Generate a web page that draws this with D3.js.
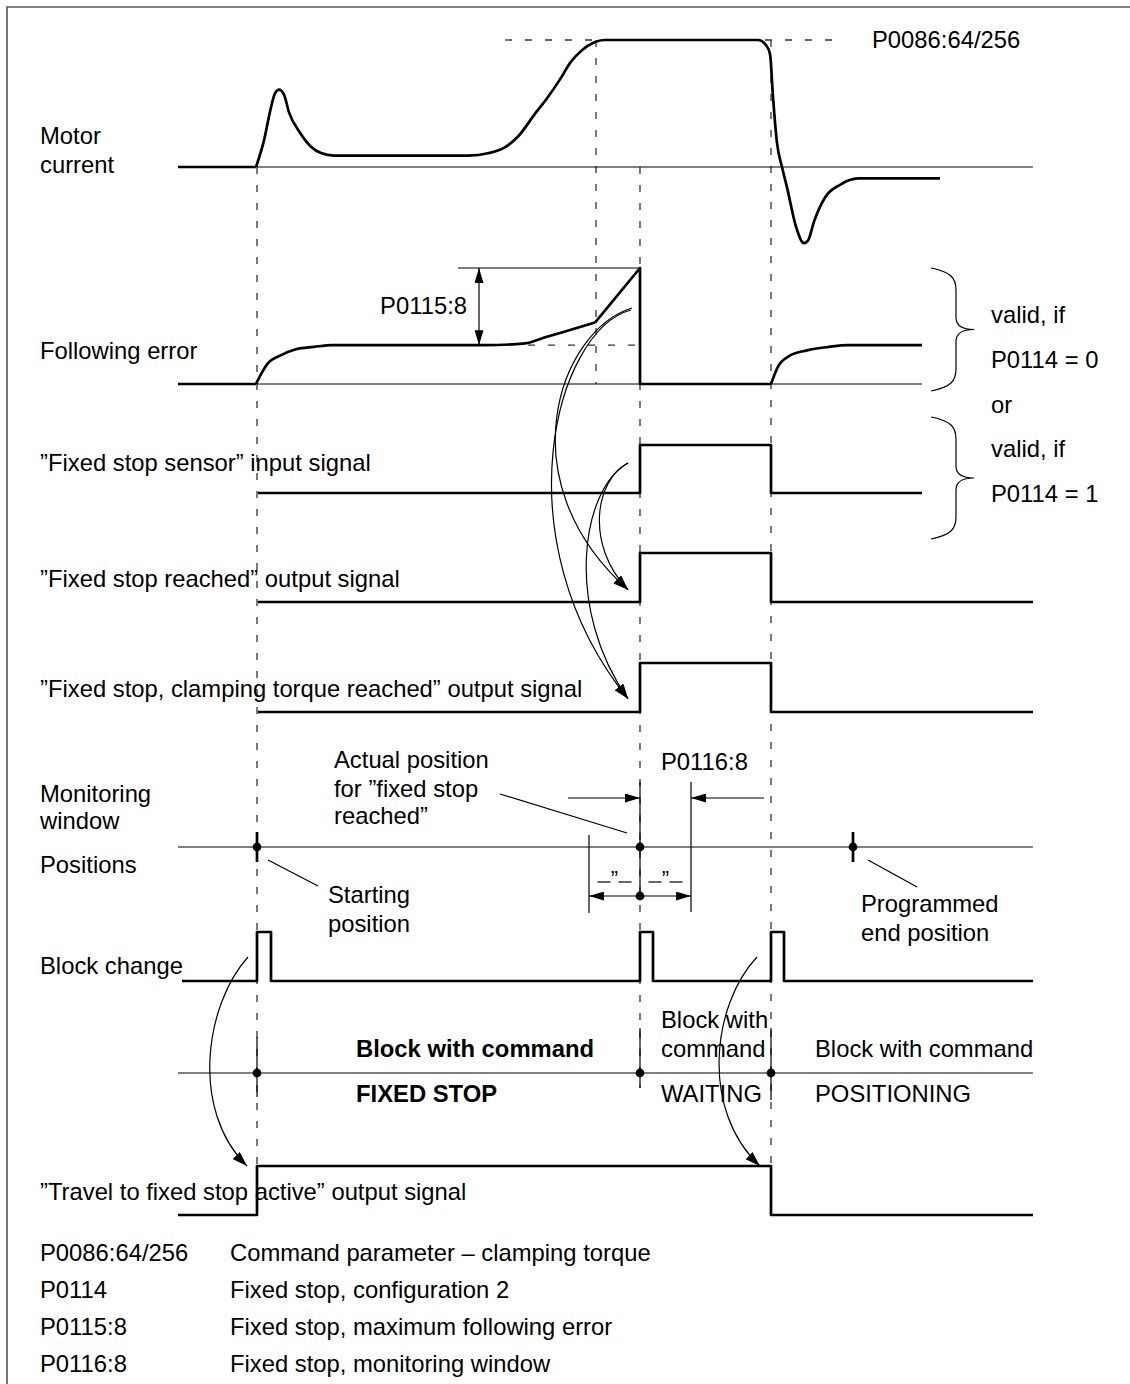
<!DOCTYPE html>
<html><head><meta charset="utf-8"><title>Travel to fixed stop</title>
<style>
  body { margin: 0; background: #fff; }
  svg { display: block; font-family: 'Liberation Sans', Arial, sans-serif; }
  .sig { fill: none; stroke: #000; stroke-width: 2.7; stroke-linejoin: round; }
  .thin { fill: none; stroke: #000; stroke-width: 1.2; }
  .dash { fill: none; stroke: #333; stroke-width: 1.3; stroke-dasharray: 7 11; }
  .hdash { fill: none; stroke: #333; stroke-width: 1.3; stroke-dasharray: 7 13; }
  .frame { fill: none; stroke: #555; stroke-width: 1.6; }
  text { font-size: 23.8px; fill: #000; }
  .bold { font-weight: bold; }
</style>
</head>
<body>
<svg id="chart" width="1130" height="1384"></svg>
<script src="https://cdnjs.cloudflare.com/ajax/libs/d3/7.8.5/d3.min.js"></script>
<script>
// time axis (ms), events
const tStart = 79, tLimit = 418, tStop = 462, tEnd = 593, tMax = 855;

// motor current, % of clamping torque P0086:64/256
const motorLead = [[0, 0], [78, 0]];
const motorCurrent = [[78, 0], [86, 21], [93, 47], [97, 58], [101, 61], [106, 57], [111, 43], [122, 27],
  [133, 16], [143, 11], [156, 9], [290, 9], [311, 11], [326, 15], [340, 24], [358, 43], [368, 53],
  [382, 69], [393, 83], [404, 92], [416, 98], [426, 100], [580, 100], [588, 96], [592, 89], [595, 55],
  [599, 19], [604, 0], [609, -16], [618, -47], [626, -60], [630, -58], [636, -43], [647, -24],
  [662, -14], [680, -9], [762, -9]];

// following error, % of P0115:8
const feLead = [[0, 0], [78, 0]];
const feRise = [[78, 0], [84, 10], [90, 18], [101, 24], [118, 30], [136, 32], [154, 33.5], [308, 33.5],
  [347, 35], [368, 40.5], [382, 44], [417, 53]];
const feRamp = [[417, 53], [462, 100], [462, 0], [593, 0]];
const feRecover = [[593, 0], [600, 15], [611, 24], [629, 29], [651, 32], [669, 33.5], [744, 33.5]];
const fePlateau = 33.5;

// digital signals [t, level]
const sensorSig = [[80, 0], [462, 1], [593, 0], [744, 0]];
const reachedSig = [[80, 0], [462, 1], [593, 0], [855, 0]];
const clampSig = [[80, 0], [462, 1], [593, 0], [855, 0]];
const blockChange = [[4, 0], [79, 1], [93, 0], [462, 1], [475, 0], [593, 1], [606, 0], [855, 0]];
const travelSig = [[0, 0], [79, 1], [593, 0], [855, 0]];

// positions
const startPos = 79, actualPos = 462, endPos = 675, windowHalf = 51;
const blockBounds = [79, 462, 593];

// legend
const legendCodes = ['P0086:64/256', 'P0114', 'P0115:8', 'P0116:8'];
const legendTexts = ['Command parameter \u2013 clamping torque', 'Fixed stop, configuration 2',
  'Fixed stop, maximum following error', 'Fixed stop, monitoring window'];

const svg = d3.select('#chart');
const x = d3.scaleLinear().domain([0, tMax]).range([178, 1033]);
const lane = {
  motor: d3.scaleLinear().domain([0, 100]).range([167, 40]),
  fe: d3.scaleLinear().domain([0, 100]).range([384, 268]),
  sensor: d3.scaleLinear().domain([0, 1]).range([493, 445]),
  reached: d3.scaleLinear().domain([0, 1]).range([602, 553]),
  clamp: d3.scaleLinear().domain([0, 1]).range([712, 663]),
  block: d3.scaleLinear().domain([0, 1]).range([981, 932]),
  travel: d3.scaleLinear().domain([0, 1]).range([1215, 1166])
};
const yPos = 847, yCmd = 1073;

const defs = svg.append('defs');
function marker(id, len, wid) {
  defs.append('marker').attr('id', id)
    .attr('viewBox', `0 0 ${len} ${wid}`).attr('refX', len).attr('refY', wid / 2)
    .attr('markerWidth', len).attr('markerHeight', wid)
    .attr('markerUnits', 'userSpaceOnUse').attr('orient', 'auto-start-reverse')
    .append('path').attr('d', `M0,0 L${len},${wid / 2} L0,${wid} Z`).attr('fill', '#000');
}
marker('ah', 15, 9);
marker('ahc', 15, 10);

// frame
svg.append('path').attr('class', 'frame').attr('d', 'M7,1384 L7,7 L1130,7');

function trace(data, y, curve, cls) {
  return svg.append('path').datum(data).attr('class', cls || 'sig')
    .attr('d', d3.line().x(d => x(d[0])).y(d => y(d[1])).curve(curve || d3.curveLinear));
}
function hline(t0, t1, y, cls) {
  return svg.append('line').attr('class', cls || 'thin')
    .attr('x1', x(t0)).attr('x2', x(t1)).attr('y1', y).attr('y2', y);
}
function vline(t, y0, y1, cls) {
  return svg.append('line').attr('class', cls || 'thin')
    .attr('x1', x(t)).attr('x2', x(t)).attr('y1', y0).attr('y2', y1);
}
function label(px, py, str, cls, anchor) {
  return svg.append('text').attr('x', px).attr('y', py).attr('class', cls || null)
    .attr('text-anchor', anchor || 'start').text(str);
}

// dashed event lines
vline(tStart, lane.motor(0), lane.travel(1), 'dash');
vline(tLimit, lane.motor(100), lane.fe(0), 'dash');
vline(tStop, lane.motor(0), 1088, 'dash');
vline(tEnd, lane.motor(100), lane.travel(1), 'dash');

// motor current
hline(tStart, tMax, lane.motor(0));
hline(327, 667, lane.motor(100), 'hdash');
trace(motorLead, lane.motor);
trace(motorCurrent, lane.motor, d3.curveMonotoneX);
label(40, 144, 'Motor');
label(40, 173, 'current');
label(872, 48, 'P0086:64/256');

// following error
hline(tStart, 744, lane.fe(0));
hline(280, tStop, lane.fe(100));
hline(350, tStop, lane.fe(fePlateau), 'hdash');
trace(feLead, lane.fe);
trace(feRise, lane.fe, d3.curveMonotoneX);
trace(feRamp, lane.fe);
trace(feRecover, lane.fe, d3.curveMonotoneX);
svg.append('line').attr('class', 'thin')
  .attr('x1', x(301)).attr('x2', x(301)).attr('y1', lane.fe(fePlateau)).attr('y2', lane.fe(100))
  .attr('marker-start', 'url(#ah)').attr('marker-end', 'url(#ah)');
label(467, 314, 'P0115:8', null, 'end');
label(40, 359, 'Following error');

// braces
function brace(bx, yTop, yBot) {
  const m = (yTop + yBot) / 2;
  return `M${bx},${yTop} C${bx + 20},${yTop + 4} ${bx + 25},${yTop + 10} ${bx + 25},${yTop + 22}
    L${bx + 25},${m - 12} C${bx + 25},${m - 3} ${bx + 32},${m} ${bx + 43},${m}
    C${bx + 32},${m} ${bx + 25},${m + 3} ${bx + 25},${m + 12} L${bx + 25},${yBot - 22}
    C${bx + 25},${yBot - 10} ${bx + 20},${yBot - 4} ${bx},${yBot}`;
}
svg.append('path').attr('class', 'thin').attr('d', brace(931, lane.fe(100), lane.fe(0) + 7));
svg.append('path').attr('class', 'thin').attr('d', brace(931, 417, 539));
label(991, 323, 'valid, if');
label(991, 368, 'P0114 = 0');
label(991, 413, 'or');
label(991, 457, 'valid, if');
label(991, 502, 'P0114 = 1');

// digital signals
trace(sensorSig, lane.sensor, d3.curveStepAfter);
trace(reachedSig, lane.reached, d3.curveStepAfter);
trace(clampSig, lane.clamp, d3.curveStepAfter);
label(40, 471, '\u201DFixed stop sensor\u201D input signal');
label(40, 587, '\u201DFixed stop reached\u201D output signal');
label(40, 697, '\u201DFixed stop, clamping torque reached\u201D output signal');

// curved arrows (from following error and sensor to outputs, block change to travel)
const x0 = x(tStop);
const curved = [
  [[x0 - 8, 308], [x0 - 80, 330], [x0 - 135, 480], [x0 - 12, lane.reached(0.25)]],
  [[x0 - 9, 310], [x0 - 85, 330], [x0 - 140, 540], [x0 - 12, lane.clamp(0.27)]],
  [[x0 - 12, 463], [x0 - 45, 480], [x0 - 55, 545], [x0 - 12, lane.reached(0.25)]],
  [[x0 - 12, 463], [x0 - 60, 490], [x0 - 75, 610], [x0 - 12, lane.clamp(0.27)]],
  [[x(tStart) - 9, 957], [x(tStart) - 52, 1005], [x(tStart) - 67, 1110], [x(tStart) - 10, lane.travel(1)]],
  [[x(tEnd) - 14, 957], [x(tEnd) - 59, 1005], [x(tEnd) - 71, 1110], [x(tEnd) - 11, lane.travel(1)]]
];
curved.forEach(c => {
  svg.append('path').attr('class', 'thin')
    .attr('d', `M${c[0]} C${c[1]} ${c[2]} ${c[3]}`)
    .attr('marker-end', 'url(#ahc)');
});

// monitoring window / positions
hline(0, tMax, yPos);
label(40, 802, 'Monitoring');
label(40, 829, 'window');
label(40, 873, 'Positions');
[startPos, endPos].forEach(t => vline(t, yPos - 15, yPos + 15, 'sig'));
vline(actualPos, 782, 896, 'thin');
vline(actualPos + windowHalf, 782, 912);
vline(actualPos - windowHalf, 835, 913);
[[startPos, yPos], [actualPos, yPos], [endPos, yPos], [actualPos, 896]].forEach(p => {
  svg.append('circle').attr('cx', x(p[0])).attr('cy', p[1]).attr('r', 4.4).attr('fill', '#000');
});
svg.append('line').attr('class', 'thin').attr('x1', x(390)).attr('x2', x(actualPos))
  .attr('y1', 798).attr('y2', 798).attr('marker-end', 'url(#ah)');
svg.append('line').attr('class', 'thin').attr('x1', x(586)).attr('x2', x(actualPos + windowHalf))
  .attr('y1', 798).attr('y2', 798).attr('marker-end', 'url(#ah)');
svg.append('line').attr('class', 'thin').attr('x1', x(actualPos)).attr('x2', x(actualPos - windowHalf))
  .attr('y1', 896).attr('y2', 896).attr('marker-end', 'url(#ah)');
svg.append('line').attr('class', 'thin').attr('x1', x(actualPos)).attr('x2', x(actualPos + windowHalf))
  .attr('y1', 896).attr('y2', 896).attr('marker-end', 'url(#ah)');
label(661, 770, 'P0116:8');

// ditto marks "_”_" either side of the actual position
[actualPos - windowHalf / 2, actualPos + windowHalf / 2].forEach(t => {
  const cx = x(t);
  svg.append('line').attr('class', 'thin').attr('x1', cx - 17).attr('x2', cx - 4).attr('y1', 882).attr('y2', 882);
  svg.append('line').attr('class', 'thin').attr('x1', cx + 4).attr('x2', cx + 17).attr('y1', 882).attr('y2', 882);
  svg.append('text').attr('x', cx).attr('y', 886).attr('text-anchor', 'middle')
    .style('font-size', '22px').text('\u201D');
});

// leaders
[[90, 860, 140, 886], [322, 794, 449, 833], [690, 860, 739, 887]].forEach(l => {
  svg.append('line').attr('class', 'thin').attr('x1', x(l[0])).attr('y1', l[1])
    .attr('x2', x(l[2])).attr('y2', l[3]);
});
label(334, 768, 'Actual position');
label(334, 797, 'for \u201Dfixed stop');
label(334, 824, 'reached\u201D');
label(328, 903, 'Starting');
label(328, 932, 'position');
label(861, 912, 'Programmed');
label(861, 941, 'end position');

// block change
trace(blockChange, lane.block, d3.curveStepAfter);
label(40, 974, 'Block change');

// block commands
hline(0, tMax, yCmd);
vline(blockBounds[0], 1037, 1097, 'thin');
vline(blockBounds[1], 1028, 1088, 'thin');
vline(blockBounds[2], 1028, 1100, 'thin');
blockBounds.forEach(t => svg.append('circle').attr('cx', x(t)).attr('cy', yCmd).attr('r', 4.4).attr('fill', '#000'));
label(356, 1057, 'Block with command', 'bold');
label(356, 1102, 'FIXED STOP', 'bold');
label(661, 1028, 'Block with');
label(661, 1057, 'command');
label(661, 1102, 'WAITING');
label(815, 1057, 'Block with command');
label(815, 1102, 'POSITIONING');

// travel to fixed stop active
trace(travelSig, lane.travel, d3.curveStepAfter);
label(40, 1200, '\u201DTravel to fixed stop active\u201D output signal');

// legend
legendCodes.forEach((c, i) => {
  label(40, 1261 + i * 37, c);
  label(230, 1261 + i * 37, legendTexts[i]);
});
</script>
</body></html>
